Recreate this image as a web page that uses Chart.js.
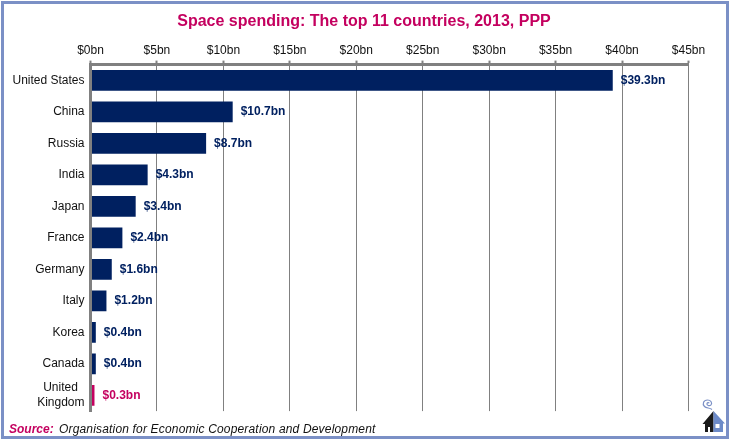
<!DOCTYPE html>
<html>
<head>
<meta charset="utf-8">
<style>
html,body{margin:0;padding:0;background:#fff;}
#wrap{position:relative;width:730px;height:440px;overflow:hidden;}
#c{position:absolute;left:0;top:0;}
#frame{position:absolute;left:1px;top:1px;width:722px;height:432px;border:3px solid #7b90c6;pointer-events:none;}
#icon{position:absolute;left:700px;top:396px;}
</style>
<script src="https://cdn.jsdelivr.net/npm/chart.js@4"></script>
</head>
<body>
<div id="wrap">
<canvas id="c" width="730" height="440"></canvas>
<div id="frame"></div>
<svg id="icon" width="28" height="38" viewBox="700 396 28 38">
  <path d="M712 409.5 C709.5 407.5 706.5 408.5 704.5 406.5 C702 404 703.5 400 707.5 400 C711 400 712.5 403 711 404.8 C709.5 406.5 706.5 405.5 707 403.5 C707.4 402.4 708.8 402.4 709.2 403.2" fill="none" stroke="#7b90c6" stroke-width="1.2"/>
  <path d="M713.5 411 L702.5 424 L705 424 L705 432 L713.5 432 Z" fill="#1a1a1a"/>
  <rect x="708" y="427" width="2" height="5" fill="#fff"/>
  <path d="M713.5 411 L725 423.5 L723 423.5 L723 432 L713.5 432 Z" fill="#6c8ac8"/>
  <rect x="715.5" y="424" width="4" height="4" fill="#fff"/>
</svg>
</div>
<script>
const categories = ['United States','China','Russia','India','Japan','France','Germany','Italy','Korea','Canada',['United  ','Kingdom']];
const spending = [39.3,10.7,8.7,4.3,3.4,2.4,1.6,1.2,0.4,0.4,0.3];
const chartTitle = 'Space spending: The top 11 countries, 2013, PPP';
const sourceLabel = 'Source:';
const sourceText = 'Organisation for Economic Cooperation and Development';

const NAVY = '#002060', PINK = '#c4005f', GREY = '#808080';
const FONT = '"Liberation Sans", Arial, sans-serif';
const HIGHLIGHT = categories.length - 1;
const colourAt = i => i === HIGHLIGHT ? PINK : NAVY;

const extras = {
  id: 'extras',
  afterDatasetsDraw(chart) {
    const {ctx, scales: {x, y}} = chart;
    ctx.save();
    ctx.textBaseline = 'middle';
    ctx.textAlign = 'left';
    ctx.font = 'bold 12px ' + FONT;
    spending.forEach((v, i) => {
      ctx.fillStyle = colourAt(i);
      ctx.fillText('$' + v.toFixed(1) + 'bn', x.getPixelForValue(v) + 8, y.getPixelForValue(i));
    });
    ctx.textAlign = 'center';
    ctx.fillStyle = PINK;
    ctx.font = 'bold 16px ' + FONT;
    ctx.fillText(chartTitle, 364, 21.5);
    ctx.textAlign = 'left';
    ctx.textBaseline = 'alphabetic';
    ctx.font = 'italic bold 12px ' + FONT;
    ctx.fillText(sourceLabel, 9, 433);
    ctx.fillStyle = '#111';
    ctx.font = 'italic 12px ' + FONT;
    ctx.letterSpacing = '0.17px';
    ctx.fillText(sourceText, 59, 433);
    ctx.restore();
  }
};

new Chart(document.getElementById('c'), {
  type: 'bar',
  data: {
    labels: categories,
    datasets: [{
      data: spending,
      backgroundColor: c => colourAt(c.dataIndex),
      categoryPercentage: 0.66,
      barPercentage: 1,
      borderWidth: 0
    }]
  },
  options: {
    indexAxis: 'y',
    responsive: false,
    devicePixelRatio: 1,
    animation: false,
    layout: {padding: {left: 0, right: 41.5, top: 40.6, bottom: 28.9}},
    plugins: {
      legend: {display: false},
      tooltip: {enabled: false},
      title: {display: false}
    },
    scales: {
      x: {
        position: 'top',
        min: 0, max: 45,
        afterFit: s => { s.height = 24; },
        ticks: {
          stepSize: 5,
          maxRotation: 0,
          autoSkip: false,
          padding: 3,
          color: '#111',
          font: {family: FONT, size: 12},
          callback: v => '$' + v + 'bn'
        },
        grid: {color: GREY, lineWidth: 1, tickColor: GREY, tickWidth: 2, tickLength: 4, drawTicks: true},
        border: {color: GREY, width: 3, z: 1}
      },
      y: {
        afterFit: s => { s.width = 90.5; },
        ticks: {
          autoSkip: false,
          padding: 6,
          color: '#111',
          font: {family: FONT, size: 12, lineHeight: 1.2}
        },
        grid: {display: false, drawTicks: false},
        border: {color: GREY, width: 3, z: 1}
      }
    }
  },
  plugins: [extras]
});
</script>
</body>
</html>
